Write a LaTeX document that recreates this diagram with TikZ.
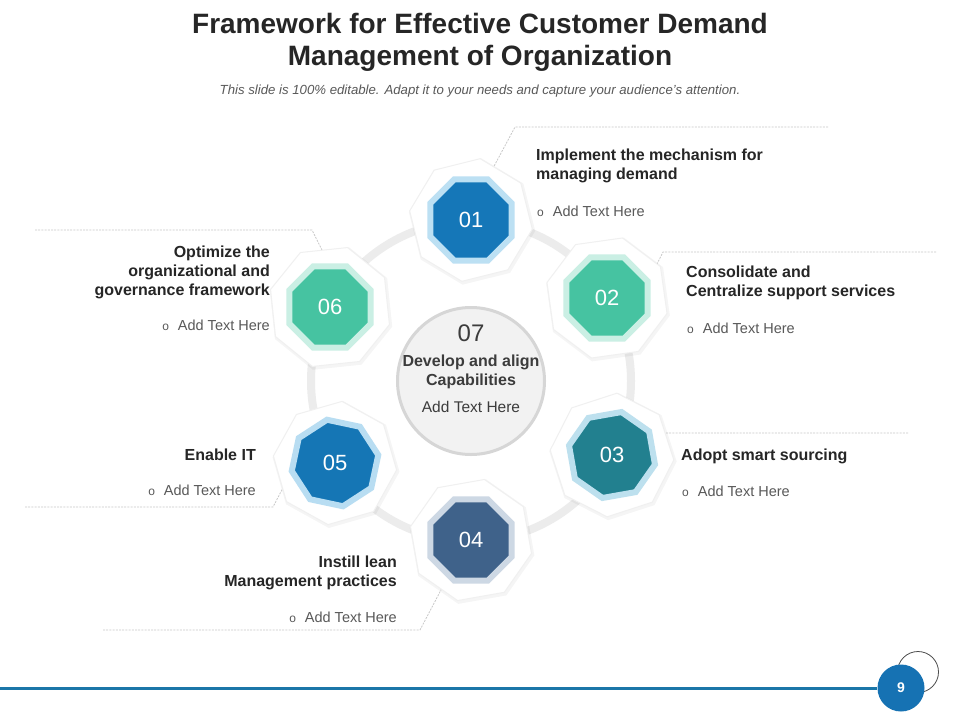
\documentclass[tikz,border=0pt]{standalone}
\usepackage{fontspec}
\setmainfont{Liberation Sans}
\usetikzlibrary{shapes.geometric,shadows}
\definecolor{titlec}{HTML}{262626}
\definecolor{subc}{HTML}{595959}
\definecolor{headc}{HTML}{262626}
\definecolor{bodyc}{HTML}{595959}
\definecolor{ringc}{HTML}{ECECEC}
\definecolor{dashc}{HTML}{C8C8C8}
\definecolor{cA}{HTML}{1577B8}\definecolor{lA}{HTML}{BCE0F3}
\definecolor{cB}{HTML}{46C3A1}\definecolor{lB}{HTML}{CAEFE4}
\definecolor{cC}{HTML}{22808F}\definecolor{lC}{HTML}{BDE0EE}
\definecolor{cD}{HTML}{3F628A}\definecolor{lD}{HTML}{CDD8E4}
\definecolor{cE}{HTML}{1576B5}\definecolor{lE}{HTML}{B8DDF2}
\definecolor{centf}{HTML}{F2F2F2}
\definecolor{centd}{HTML}{D6D6D6}
\definecolor{barc}{HTML}{1B76A8}
\definecolor{pagec}{HTML}{1672B3}
\definecolor{wedge}{HTML}{F0F0F0}
\newcommand{\bulo}{{\fontsize{12}{12}\selectfont o}\hspace{9pt}}
\begin{document}
\begin{tikzpicture}[x=1pt,y=-1pt,
  woct/.style={regular polygon, regular polygon sides=8, minimum size=124pt, inner sep=0pt, fill=white,
    draw=wedge, line width=1pt,
    general shadow={shadow scale=1.03, shadow xshift=1pt, shadow yshift=-1.5pt, opacity=0.04, fill=black}},
  coct/.style 2 args={regular polygon, regular polygon sides=8, minimum size=88pt, inner sep=0pt,
    fill=#1, draw=#2, line width=6pt, text=white, font=\fontsize{22}{22}\selectfont},
  dline/.style={draw=dashc, line width=0.8pt, dash pattern=on 2pt off 1.2pt},
  hd/.style={font=\fontsize{16}{19}\selectfont\bfseries, text=headc, inner sep=0pt},
  bul/.style={font=\fontsize{14.5}{17}\selectfont, text=bodyc, inner sep=0pt},
]
\useasboundingbox (0,0) rectangle (960,720);
\fill[white] (0,0) rectangle (960,720);

% title
\node[anchor=north, inner sep=0pt, align=center, text=titlec, font=\fontsize{28}{32}\selectfont\bfseries] (title) at (480,12.6)
  {Framework for Effective Customer Demand\\Management of Organization};
\node[anchor=base, inner sep=0pt, text=subc, font=\fontsize{13.2}{15}\selectfont\itshape] (sub) at (480,94)
  {This slide is 100\% editable. Adapt it to your needs and capture your audience's attention.};

% ring
\node[circle, draw=ringc, line width=8pt, minimum size=320pt, inner sep=0pt] (ring) at (471,381) {};

% dashed leader lines
\coordinate (d1a) at (828,127); \coordinate (d1b) at (515,127); \coordinate (d1c) at (492,170);
\coordinate (d2a) at (936,252); \coordinate (d2b) at (663,252); \coordinate (d2c) at (652,274);
\coordinate (d3a) at (908,433); \coordinate (d3b) at (663,433); \coordinate (d3c) at (652,442);
\coordinate (d4a) at (103,630); \coordinate (d4b) at (420,630); \coordinate (d4c) at (442,588);
\coordinate (d5a) at (25,507);  \coordinate (d5b) at (273,507); \coordinate (d5c) at (286,482);
\coordinate (d6a) at (35,230);  \coordinate (d6b) at (312,230); \coordinate (d6c) at (324,254);
\draw[dline] (d1a) -- (d1b) -- (d1c);
\draw[dline] (d2a) -- (d2b) -- (d2c);
\draw[dline] (d3a) -- (d3b) -- (d3c);
\draw[dline] (d4a) -- (d4b) -- (d4c);
\draw[dline] (d5a) -- (d5b) -- (d5c);
\draw[dline] (d6a) -- (d6b) -- (d6c);

% white octagons
\node[woct, shape border rotate=14] (w1) at (471,220) {};
\node[woct, shape border rotate=8] (w2) at (607,298) {};
\node[woct, shape border rotate=18] (w3) at (612,455) {};
\node[woct, shape border rotate=10] (w4) at (471,540) {};
\node[woct, shape border rotate=16] (w5) at (335,463) {};
\node[woct, shape border rotate=6] (w6) at (330,307) {};

% coloured octagons
\node[coct={cA}{lA}] (n1) at (471,220) {01};
\node[coct={cB}{lB}] (n2) at (607,298) {02};
\node[coct={cC}{lC}, shape border rotate=10] (n3) at (612,455) {03};
\node[coct={cD}{lD}] (n4) at (471,540) {04};
\node[coct={cE}{lE}, shape border rotate=-12] (n5) at (335,463) {05};
\node[coct={cB}{lB}] (n6) at (330,307) {06};

% centre
\node[circle, fill=centf, draw=centd, line width=3pt, minimum size=147pt, inner sep=0pt] (cen) at (471,381) {};
\node[anchor=base, inner sep=0pt, text=titlec!90, font=\fontsize{24}{24}\selectfont] (c07) at (471,341) {07};
\node[anchor=base, inner sep=0pt, text=titlec!90, font=\fontsize{16}{19}\selectfont\bfseries] (cl1) at (471,366) {Develop and align};
\node[anchor=base, inner sep=0pt, text=titlec!90, font=\fontsize{16}{19}\selectfont\bfseries] (cl2) at (471,385) {Capabilities};
\node[anchor=base, inner sep=0pt, text=titlec!90, font=\fontsize{15.5}{19}\selectfont] (cl3) at (471,412) {Add Text Here};

% headings
\node[hd, anchor=north west, align=left] (h1) at (536,148.4) {Implement the mechanism for\\managing demand};
\node[hd, anchor=north west, align=left] (h2) at (686,265.4) {Consolidate and\\Centralize support services};
\node[hd, anchor=base west] (h3) at (681,460) {Adopt smart sourcing};
\node[hd, anchor=north east, align=right] (h4) at (397,555.4) {Instill lean\\Management practices};
\node[hd, anchor=base east] (h5) at (256,460) {Enable IT};
\node[hd, anchor=north east, align=right] (h6) at (270,245.4) {Optimize the\\organizational and\\governance framework};

% bullets
\node[bul, anchor=base west] (b1) at (537,216) {\bulo Add Text Here};
\node[bul, anchor=base west] (b2) at (687,333) {\bulo Add Text Here};
\node[bul, anchor=base west] (b3) at (682,496) {\bulo Add Text Here};
\node[bul, anchor=base east] (b4) at (397,622) {\bulo Add Text Here};
\node[bul, anchor=base east] (b5) at (256,495) {\bulo Add Text Here};
\node[bul, anchor=base east] (b6) at (270,330) {\bulo Add Text Here};

% bottom bar and page number
\coordinate (barL) at (0,688);
\node[circle, draw=black!70, line width=0.8pt, minimum size=41pt, inner sep=0pt] (pgo) at (918,672) {};
\node[circle, fill=pagec, minimum size=47pt, inner sep=0pt, text=white, font=\fontsize{14}{14}\selectfont\bfseries] (pg) at (901,688) {9};
\draw[barc, line width=3pt] (barL) -- (pg);
\end{tikzpicture}
\end{document}
